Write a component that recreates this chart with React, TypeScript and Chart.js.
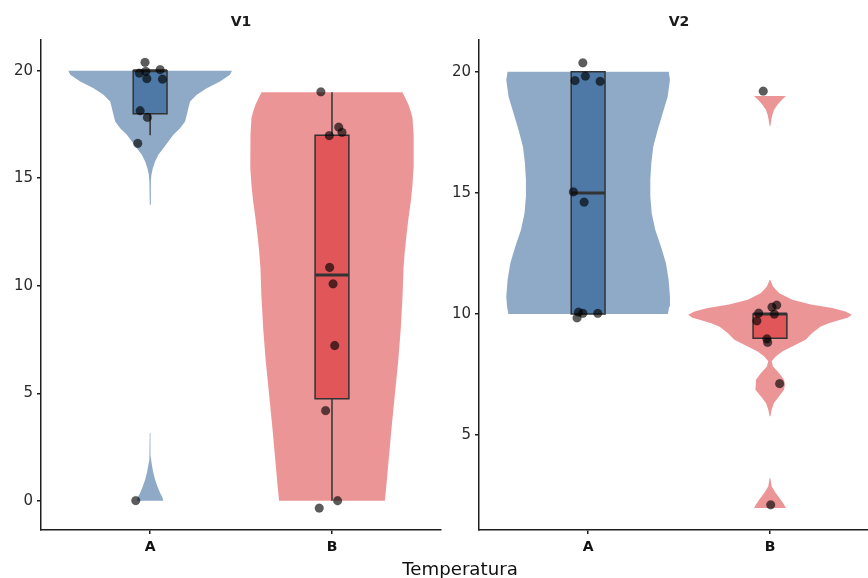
import React, { useEffect, useRef } from 'react';
import { Chart, registerables } from 'chart.js';

Chart.register(...registerables);

const FONT = '"DejaVu Sans", "Liberation Sans", Arial, sans-serif';

// ---------- data ----------
const categories = ['A', 'B'];
const panelTitles = ['V1', 'V2'];
const xAxisTitle = 'Temperatura';

const yTicksV1 = [0, 5, 10, 15, 20];
const yTicksV2 = [5, 10, 15, 20];
const yRangeV1 = [-1.36, 21.43];
const yRangeV2 = [1.09, 21.31];

// violin outlines: y values and relative half-width (1 = widest)
const v1A_top_y = [20.0, 19.81, 19.5, 19.19, 18.88, 18.57, 18.26, 17.95, 17.64, 17.33, 17.02, 16.71, 16.4, 16.09, 15.78, 15.47, 15.16, 14.85, 13.77];
const v1A_top_d = [1.0, 0.976, 0.854, 0.691, 0.57, 0.488, 0.467, 0.448, 0.427, 0.366, 0.284, 0.223, 0.162, 0.101, 0.061, 0.033, 0.016, 0.009, 0.004];
const v1A_bot_y = [3.15, 2.06, 1.91, 1.6, 1.29, 0.98, 0.67, 0.36, 0.2, 0];
const v1A_bot_d = [0.004, 0.007, 0.012, 0.024, 0.04, 0.061, 0.089, 0.122, 0.146, 0.162];

const v1B_y = [19.0, 18.73, 18.42, 18.11, 17.8, 17.02, 16.25, 15.47, 14.7, 13.92, 13.15, 12.37, 11.6, 10.82, 9.5, 8.03, 6.48, 4.93, 3.38, 1.83, 0.59, 0];
const v1B_d = [0.86, 0.896, 0.935, 0.963, 0.984, 0.996, 1.0, 0.996, 0.984, 0.963, 0.935, 0.911, 0.89, 0.874, 0.862, 0.841, 0.809, 0.768, 0.728, 0.691, 0.662, 0.646];

const v2A_y = [20.0, 19.66, 18.97, 18.29, 17.6, 16.91, 16.22, 15.54, 14.85, 14.16, 13.47, 12.79, 12.1, 11.41, 10.72, 10.3, 10.0];
const v2A_d = [0.985, 1.0, 0.972, 0.911, 0.85, 0.796, 0.772, 0.76, 0.76, 0.777, 0.821, 0.89, 0.951, 0.984, 1.0, 0.99, 0.975];

const v2B_top_y = [19.0, 18.83, 18.63, 18.42, 18.22, 18.01, 17.76];
const v2B_top_d = [0.195, 0.143, 0.089, 0.049, 0.028, 0.016, 0.005];
const v2B_mid_y = [11.41, 11.14, 10.87, 10.59, 10.4, 10.25, 10.11, 9.97, 9.85, 9.77, 9.62, 9.49, 9.22, 8.94, 8.66, 8.46, 8.25, 8.05, 7.84, 7.57, 7.29, 7.09, 6.88, 6.6, 6.33, 6.06, 5.78];
const v2B_mid_d = [0.004, 0.037, 0.11, 0.272, 0.5, 0.76, 0.923, 1.0, 0.95, 0.86, 0.72, 0.62, 0.516, 0.435, 0.272, 0.15, 0.07, 0.021, 0.037, 0.11, 0.171, 0.183, 0.171, 0.11, 0.049, 0.021, 0.005];
const v2B_bot_y = [3.24, 2.89, 2.62, 2.35, 2.14, 2.0];
const v2B_bot_d = [0.004, 0.021, 0.07, 0.13, 0.171, 0.195];

// boxplot stats: [lower whisker, Q1, median, Q3, upper whisker]
const v1A_box = [17, 18, 20, 20, 20];
const v1B_box = [0, 4.75, 10.5, 17, 19];
const v2A_box = [10, 10, 15, 20, 20];
const v2B_box = [9, 9, 10, 10, 10];

// jittered observations: y and horizontal jitter (category units)
const v1A_pts_y = [20.39, 19.89, 19.97, 20.05, 19.63, 19.61, 18.14, 17.83, 16.62, 0.01];
const v1A_pts_dx = [-0.028, -0.059, -0.024, 0.055, -0.018, 0.068, -0.055, -0.015, -0.068, -0.079];
const v1B_pts_y = [19.02, 17.38, 16.98, 17.13, 10.85, 10.09, 7.22, 4.19, 0.0, -0.34];
const v1B_pts_dx = [-0.061, 0.037, -0.015, 0.055, -0.013, 0.006, 0.015, -0.035, 0.031, -0.07];
const v2A_pts_y = [20.37, 19.63, 19.82, 19.6, 15.04, 14.62, 9.84, 10.08, 10.03, 10.03];
const v2A_pts_dx = [-0.029, -0.072, -0.015, 0.066, -0.081, -0.022, -0.061, -0.053, -0.029, 0.053];
const v2B_pts_y = [19.2, 10.04, 10.29, 10.37, 10.0, 9.72, 8.98, 8.83, 7.13, 2.13];
const v2B_pts_dx = [-0.037, -0.062, 0.011, 0.037, 0.024, -0.072, -0.017, -0.013, 0.053, 0.004];

// ---------- styles ----------
const violinColors = ['rgba(78,121,167,0.63)', 'rgba(225,87,89,0.63)'];
const boxColors = ['#4E79A7', '#E15759'];
const LINE = '#333333';
const AXIS = '#1e1e1e';
const VIOLIN_HALF = 0.45;
const BOX_HALF = 0.093;

type Group = {
  violins: [number[], number[]][];
  box: number[];
  ptsY: number[];
  ptsDx: number[];
};

const panels: { title: string; yTicks: number[]; yRange: number[]; groups: Group[] }[] = [
  {
    title: panelTitles[0],
    yTicks: yTicksV1,
    yRange: yRangeV1,
    groups: [
      { violins: [[v1A_top_y, v1A_top_d], [v1A_bot_y, v1A_bot_d]], box: v1A_box, ptsY: v1A_pts_y, ptsDx: v1A_pts_dx },
      { violins: [[v1B_y, v1B_d]], box: v1B_box, ptsY: v1B_pts_y, ptsDx: v1B_pts_dx },
    ],
  },
  {
    title: panelTitles[1],
    yTicks: yTicksV2,
    yRange: yRangeV2,
    groups: [
      { violins: [[v2A_y, v2A_d]], box: v2A_box, ptsY: v2A_pts_y, ptsDx: v2A_pts_dx },
      { violins: [[v2B_top_y, v2B_top_d], [v2B_mid_y, v2B_mid_d], [v2B_bot_y, v2B_bot_d]], box: v2B_box, ptsY: v2B_pts_y, ptsDx: v2B_pts_dx },
    ],
  },
];

function violinPolygon(center: number, ys: number[], ds: number[]) {
  const idx = ys.map((_, i) => i).sort((a, b) => ys[a] - ys[b]);
  const right = idx.map((i) => ({ x: center + VIOLIN_HALF * ds[i], y: ys[i] }));
  const left = idx.map((i) => ({ x: center - VIOLIN_HALF * ds[i], y: ys[i] })).reverse();
  return [...right, ...left];
}

function segment(data: { x: number; y: number }[], width: number, order: number) {
  return {
    type: 'line' as const,
    data,
    borderColor: LINE,
    borderWidth: width,
    pointRadius: 0,
    fill: false,
    order,
  };
}

function buildDatasets(p: (typeof panels)[number]) {
  const out: any[] = [];
  p.groups.forEach((g, gi) => {
    const c = gi + 1;
    g.violins.forEach(([ys, ds]) => {
      out.push({
        type: 'line',
        data: violinPolygon(c, ys, ds),
        fill: 'shape',
        backgroundColor: violinColors[gi],
        borderColor: 'rgba(0,0,0,0)',
        borderWidth: 0,
        pointRadius: 0,
        order: 6,
      });
    });
    const [lo, q1, med, q3, hi] = g.box;
    if (hi > q3) out.push(segment([{ x: c, y: q3 }, { x: c, y: hi }], 1.5, 4));
    if (lo < q1) out.push(segment([{ x: c, y: lo }, { x: c, y: q1 }], 1.5, 4));
    out.push({
      type: 'line',
      data: [
        { x: c - BOX_HALF, y: q1 },
        { x: c + BOX_HALF, y: q1 },
        { x: c + BOX_HALF, y: q3 },
        { x: c - BOX_HALF, y: q3 },
        { x: c - BOX_HALF, y: q1 },
      ],
      fill: 'shape',
      backgroundColor: boxColors[gi],
      borderColor: LINE,
      borderWidth: 1.5,
      borderCapStyle: 'square',
      borderJoinStyle: 'miter',
      pointRadius: 0,
      order: 3,
    });
    out.push(segment([{ x: c - BOX_HALF, y: med }, { x: c + BOX_HALF, y: med }], 3, 2));
    out.push({
      type: 'line',
      showLine: false,
      data: g.ptsY.map((y, i) => ({ x: c + g.ptsDx[i], y })),
      pointRadius: 4.4,
      pointBackgroundColor: 'rgba(0,0,0,0.64)',
      pointBorderColor: 'rgba(0,0,0,0.3)',
      pointBorderWidth: 0.5,
      order: 1,
    });
  });
  return out;
}

function makeConfig(pi: number): any {
  const p = panels[pi];
  return {
    type: 'line',
    data: { datasets: buildDatasets(p) },
    options: {
      animation: false,
      responsive: false,
      events: [],
      layout: { padding: 0 },
      plugins: {
        legend: { display: false },
        tooltip: { enabled: false },
        title: {
          display: true,
          text: p.title,
          fullSize: false,
          color: '#1a1a1a',
          font: { family: FONT, size: 14, weight: 'bold', lineHeight: 1.2 },
          padding: { top: 13.6, bottom: 9.6 },
        },
      },
      scales: {
        x: {
          type: 'linear',
          min: 0.4,
          max: 2.6,
          afterBuildTicks: (s: any) => {
            s.ticks = categories.map((_, i) => ({ value: i + 1 }));
          },
          afterFit: (s: any) => {
            s.height = 48;
          },
          ticks: {
            callback: (v: any) => categories[Math.round(Number(v)) - 1] ?? '',
            font: { family: FONT, size: 14, weight: 'bold' },
            color: '#111',
            padding: 5,
            maxRotation: 0,
            autoSkip: false,
          },
          grid: { drawOnChartArea: false, drawTicks: true, tickLength: 4, color: AXIS, lineWidth: 1.5 },
          border: { display: true, color: AXIS, width: 1.5 },
        },
        y: {
          type: 'linear',
          min: p.yRange[0],
          max: p.yRange[1],
          afterBuildTicks: (s: any) => {
            s.ticks = p.yTicks.map((v) => ({ value: v }));
          },
          afterFit: (s: any) => {
            s.width = 41;
          },
          ticks: {
            callback: (v: any) => String(v),
            font: { family: FONT, size: 15 },
            color: '#2a2a2a',
            padding: 4,
          },
          grid: { drawOnChartArea: false, drawTicks: true, tickLength: 4, color: AXIS, lineWidth: 1.5 },
          border: { display: true, color: AXIS, width: 1.5 },
        },
      },
    },
  };
}

const CANVAS_W = 446;

function PanelChart({ index, left }: { index: number; left: number }) {
  const ref = useRef<HTMLCanvasElement>(null);
  useEffect(() => {
    if (!ref.current) return;
    const chart = new Chart(ref.current, makeConfig(index));
    return () => chart.destroy();
  }, [index]);
  return (
    <canvas
      ref={ref}
      width={CANVAS_W}
      height={578}
      style={{ position: 'absolute', left, top: 0, width: CANVAS_W, height: 578 }}
    />
  );
}

export default function App() {
  return (
    <div
      style={{
        position: 'fixed',
        left: 0,
        top: 0,
        width: 868,
        height: 578,
        overflow: 'hidden',
        background: '#ffffff',
      }}
    >
      <PanelChart index={0} left={0} />
      <PanelChart index={1} left={438} />
      <div
        style={{
          position: 'absolute',
          left: 330,
          width: 260,
          top: 560,
          textAlign: 'center',
          fontFamily: FONT,
          fontSize: 18.2,
          lineHeight: 1,
          color: '#111',
          whiteSpace: 'nowrap',
        }}
      >
        {xAxisTitle}
      </div>
    </div>
  );
}
